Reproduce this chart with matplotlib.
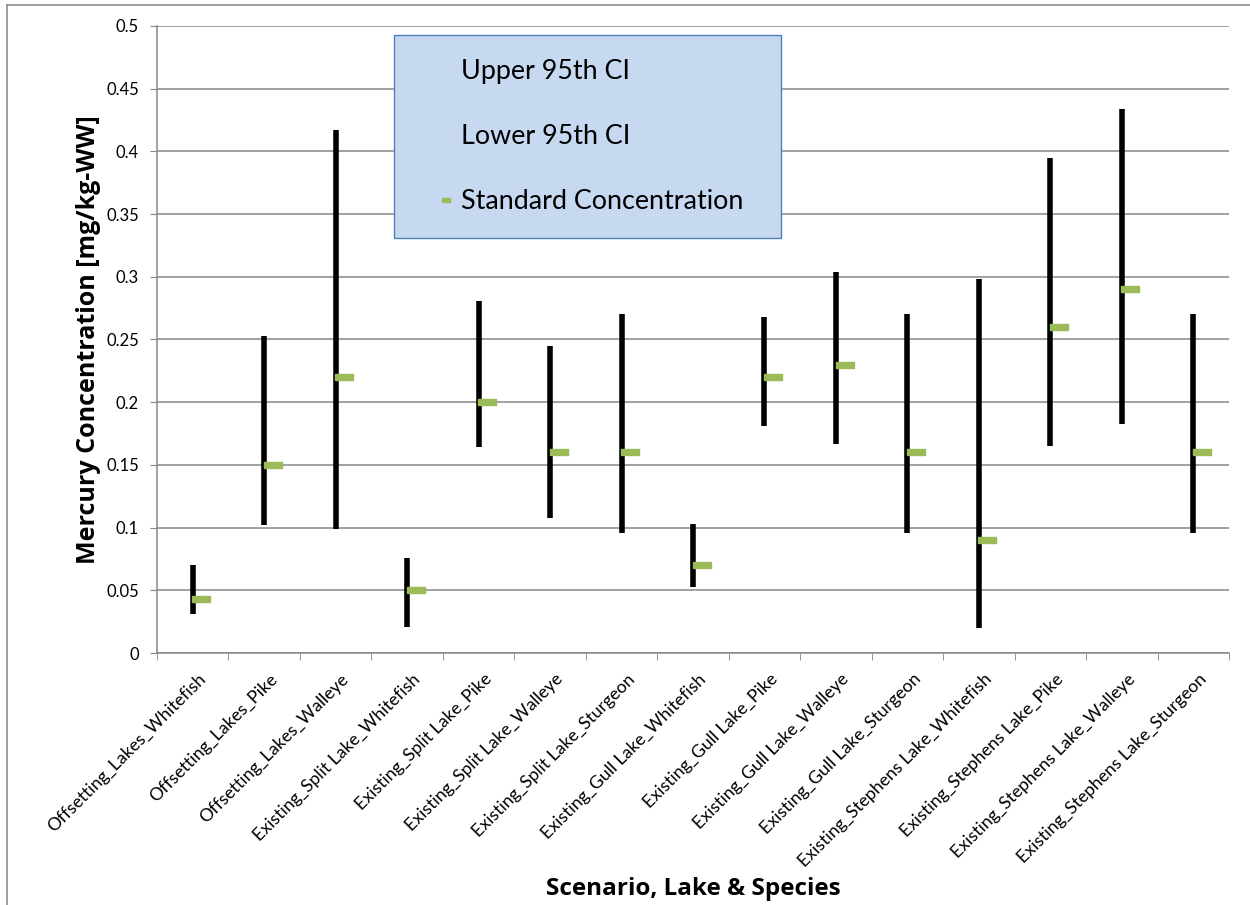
import matplotlib
matplotlib.use('Agg')
from matplotlib import pyplot as plt
from matplotlib.lines import Line2D
import matplotlib.transforms as mtransforms

plt.rcParams['font.family'] = ['Lato', 'DejaVu Sans']

categories = [
    'Offsetting_Lakes_Whitefish', 'Offsetting_Lakes_Pike', 'Offsetting_Lakes_Walleye',
    'Existing_Split Lake_Whitefish', 'Existing_Split Lake_Pike', 'Existing_Split Lake_Walleye',
    'Existing_Split Lake_Sturgeon', 'Existing_Gull Lake_Whitefish', 'Existing_Gull Lake_Pike',
    'Existing_Gull Lake_Walleye', 'Existing_Gull Lake_Sturgeon', 'Existing_Stephens Lake_Whitefish',
    'Existing_Stephens Lake_Pike', 'Existing_Stephens Lake_Walleye', 'Existing_Stephens Lake_Sturgeon',
]
upper_ci = [0.070, 0.253, 0.417, 0.076, 0.281, 0.245, 0.270, 0.103, 0.268, 0.304,
            0.270, 0.298, 0.395, 0.434, 0.270]
lower_ci = [0.031, 0.102, 0.099, 0.021, 0.164, 0.108, 0.096, 0.053, 0.181, 0.167,
            0.096, 0.020, 0.165, 0.183, 0.096]
standard = [0.043, 0.150, 0.220, 0.050, 0.200, 0.160, 0.160, 0.070, 0.220, 0.230,
            0.160, 0.090, 0.260, 0.290, 0.160]
yticks = [0, 0.05, 0.1, 0.15, 0.2, 0.25, 0.3, 0.35, 0.4, 0.45, 0.5]

grid_col = '#878787'
green = '#9BBB59'
x = list(range(1, len(categories) + 1))

fig = plt.figure(figsize=(12.5, 9.05), dpi=100)
ax = fig.add_axes([157 / 1250, 1 - 653 / 905, 1072 / 1250, 627 / 905])

# outer chart border (only top and left visible in the crop)
fig.add_artist(Line2D([7 / 1250, 1], [1 - 5 / 905, 1 - 5 / 905], color='#8c8c8c', lw=1.2))
fig.add_artist(Line2D([7 / 1250, 7 / 1250], [0, 1 - 5 / 905], color='#8c8c8c', lw=1.2))

ax.set_xlim(0.5, len(categories) + 0.5)
ax.set_ylim(0, 0.5)
ax.set_yticks(yticks)
ax.set_yticklabels([('%g' % v) for v in yticks])
ax.yaxis.grid(True, color=grid_col, lw=1.1)
ax.set_axisbelow(True)

ax.vlines(x, lower_ci, upper_ci, color='black', lw=4.0, zorder=3)
dash = [(-1.4, -0.5), (1.4, -0.5), (1.4, 0.5), (-1.4, 0.5), (-1.4, -0.5)]
ax.plot([v + 0.12 for v in x], standard, linestyle='none', marker=dash,
        markersize=12.5, color=green, markeredgecolor=green, zorder=4)

for s in ['top', 'right']:
    ax.spines[s].set_visible(False)
for s in ['left', 'bottom']:
    ax.spines[s].set_color(grid_col)
    ax.spines[s].set_linewidth(1.1)

ax.tick_params(axis='y', length=5, color=grid_col, labelsize=12, pad=8)
ax.set_xticks(x)
ax.set_xticks([v + 0.5 for v in range(0, len(categories) + 1)], minor=True)
ax.tick_params(axis='x', which='major', length=0, pad=13)
ax.tick_params(axis='x', which='minor', length=5, color=grid_col)
ax.set_xticklabels(categories, rotation=45, ha='right', rotation_mode='anchor', fontsize=12.7)
offset = mtransforms.ScaledTranslation(0.05, 0, fig.dpi_scale_trans)
for lab in ax.get_xticklabels():
    lab.set_transform(lab.get_transform() + offset)

ax.set_ylabel('Mercury Concentration [mg/kg-WW]', fontsize=18, fontweight='bold',
              family=['Open Sans', 'DejaVu Sans'], labelpad=4)
ax.set_xlabel('Scenario, Lake & Species', fontsize=17.5, fontweight='bold',
              family=['Open Sans', 'DejaVu Sans'], labelpad=5)

# legend dash sits to the right of the handle centre
leg_dash = [(0.625, -0.25), (1.625, -0.25), (1.625, 0.25), (0.625, 0.25), (0.625, -0.25)]
handles = [
    Line2D([], [], linestyle='none'),
    Line2D([], [], linestyle='none'),
    Line2D([], [], linestyle='none', marker=leg_dash, markersize=18.7, color=green),
]
leg = ax.legend(handles, ['Upper 95th CI', 'Lower 95th CI', 'Standard Concentration'],
                loc='upper left', bbox_to_anchor=(0.221, 0.6667, 0.361, 0.319), mode='expand',
                fontsize=19.4, frameon=True, fancybox=False, labelspacing=1.48,
                handlelength=1.4, handletextpad=0.2, borderpad=0.9, borderaxespad=0)
leg.get_frame().set_facecolor('#C6D9F1')
leg.get_frame().set_edgecolor('#4F81BD')
leg.get_frame().set_linewidth(1.0)
leg.get_frame().set_alpha(1)

fig.savefig('out.png', dpi=100)
